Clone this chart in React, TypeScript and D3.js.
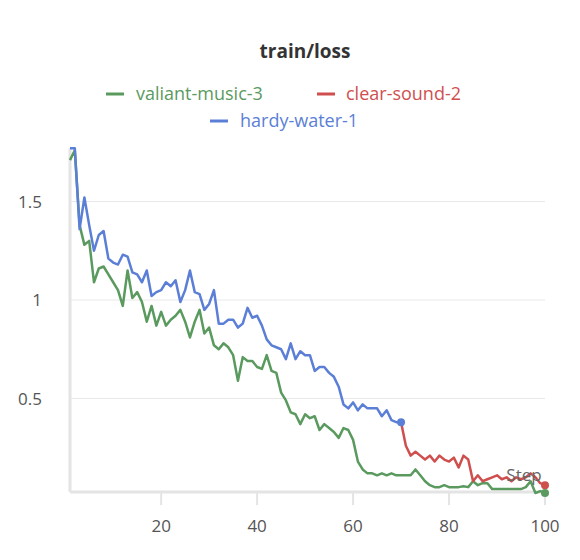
import * as d3 from "d3";

const TITLE = "train/loss";
const GREEN = [1.71,1.76,1.38,1.28,1.30,1.09,1.16,1.17,1.13,1.09,1.05,0.97,1.15,1.01,1.04,0.99,0.89,0.97,0.87,0.94,0.87,0.90,0.92,0.95,0.89,0.81,0.89,0.95,0.83,0.86,0.77,0.75,0.78,0.76,0.72,0.59,0.71,0.69,0.69,0.66,0.65,0.72,0.64,0.63,0.53,0.49,0.43,0.42,0.37,0.42,0.40,0.41,0.34,0.37,0.35,0.33,0.30,0.35,0.34,0.29,0.18,0.14,0.12,0.12,0.11,0.12,0.11,0.12,0.11,0.11,0.11,0.11,0.14,0.11,0.08,0.06,0.05,0.05,0.06,0.05,0.05,0.05,0.055,0.05,0.08,0.06,0.07,0.07,0.04,0.04,0.04,0.04,0.04,0.04,0.04,0.05,0.08,0.02,0.03,0.02];
const BLUE = [1.77,1.77,1.36,1.52,1.38,1.25,1.33,1.35,1.21,1.19,1.18,1.23,1.22,1.14,1.13,1.09,1.15,1.02,1.04,1.05,1.09,1.07,1.10,0.99,1.05,1.15,1.04,1.03,0.95,0.98,1.05,0.88,0.88,0.90,0.90,0.86,0.88,0.96,0.91,0.92,0.87,0.80,0.77,0.76,0.75,0.70,0.78,0.70,0.74,0.72,0.72,0.64,0.66,0.66,0.63,0.61,0.56,0.47,0.45,0.48,0.44,0.47,0.45,0.45,0.45,0.41,0.44,0.39,0.38,0.38];
const RED = [0.38,0.26,0.21,0.23,0.21,0.19,0.21,0.18,0.21,0.19,0.18,0.20,0.15,0.21,0.19,0.08,0.11,0.08,0.09,0.10,0.11,0.09,0.10,0.08,0.10,0.09,0.10,0.12,0.10,0.07,0.06];
const X_TICKS = [20, 40, 60, 80, 100];
const Y_TICKS = [0.5, 1, 1.5];

const C_GREEN = "#5a9a5e";
const C_BLUE = "#5b7fd6";
const C_RED = "#cf4f4f";
const FONT = "'Open Sans', sans-serif";

export default function App() {
  const x = d3.scaleLinear().domain([1, 100]).range([70, 545]);
  const y = d3.scaleLinear().domain([0, 0.5]).range([497, 398.5]);
  const line = d3.line<[number, number]>().x((d) => x(d[0])).y((d) => y(d[1]));
  const green = GREEN.map((v, i) => [i + 1, v] as [number, number]);
  const blue = BLUE.map((v, i) => [i + 1, v] as [number, number]);
  const red = RED.map((v, i) => [i + 70, v] as [number, number]);
  const yBottom = y(0.025);
  const yTop = y(1.77);

  return (
    <svg width={580} height={560} style={{ position: "absolute", left: 0, top: 0 }} fontFamily={FONT}>
      <text x={305} y={58} textAnchor="middle" fontSize={19} fontWeight="bold" fill="#333">{TITLE}</text>
      <g fontSize={18}>
        <line x1={106} x2={124} y1={94} y2={94} stroke={C_GREEN} strokeWidth={3} />
        <text x={136} y={100} fill={C_GREEN}>valiant-music-3</text>
        <line x1={317} x2={335} y1={94} y2={94} stroke={C_RED} strokeWidth={3} />
        <text x={346} y={100} fill={C_RED}>clear-sound-2</text>
        <line x1={210} x2={228} y1={121} y2={121} stroke={C_BLUE} strokeWidth={3} />
        <text x={240} y={127} fill={C_BLUE}>hardy-water-1</text>
      </g>
      {Y_TICKS.map((t) => (
        <g key={t}>
          <line x1={70} x2={545} y1={y(t)} y2={y(t)} stroke="#e8e8e8" strokeWidth={1} />
          <text x={42} y={y(t) + 6} textAnchor="end" fontSize={17} fill="#555">{t}</text>
        </g>
      ))}
      <line x1={70} x2={70} y1={yTop} y2={yBottom} stroke="#e4e4e4" strokeWidth={3} />
      <line x1={70} x2={548} y1={yBottom} y2={yBottom} stroke="#e4e4e4" strokeWidth={3} />
      {X_TICKS.map((t) => (
        <g key={t}>
          <line x1={x(t)} x2={x(t)} y1={yBottom} y2={yBottom + 13} stroke="#e4e4e4" strokeWidth={2} />
          <text x={x(t)} y={yBottom + 40} textAnchor="middle" fontSize={17} fill="#555">{t}</text>
        </g>
      ))}
      <path d={line(green) || undefined} fill="none" stroke={C_GREEN} strokeWidth={2.5} strokeLinejoin="round" />
      <path d={line(blue) || undefined} fill="none" stroke={C_BLUE} strokeWidth={2.5} strokeLinejoin="round" />
      <path d={line(red) || undefined} fill="none" stroke={C_RED} strokeWidth={2.5} strokeLinejoin="round" />
      <circle cx={x(70)} cy={y(BLUE[69])} r={4} fill={C_BLUE} />
      <circle cx={x(100)} cy={y(RED[30])} r={4} fill={C_RED} />
      <circle cx={x(100)} cy={y(GREEN[99])} r={4} fill={C_GREEN} />
      <text x={524} y={481} textAnchor="middle" fontSize={17} fill="#666">Step</text>
    </svg>
  );
}
